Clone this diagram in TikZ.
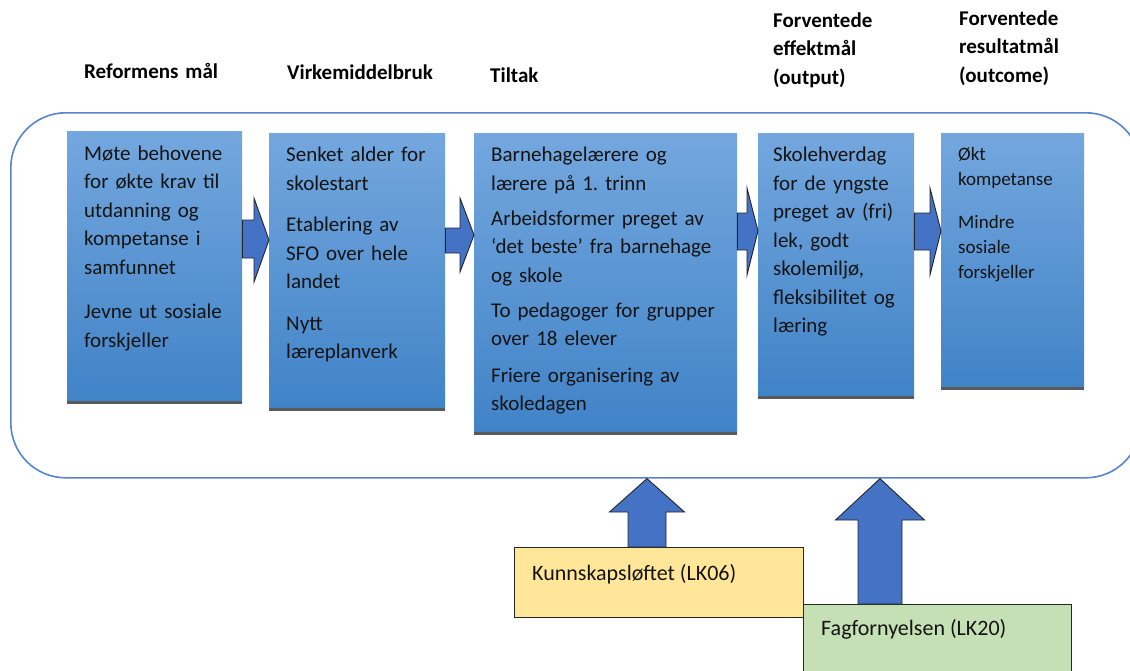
\documentclass[tikz,border=0pt]{standalone}
\usepackage{fontspec}
\setmainfont{Carlito}
\usetikzlibrary{calc}
\frenchspacing
\definecolor{boxtop}{RGB}{116,167,222}
\definecolor{boxbot}{RGB}{64,131,199}
\definecolor{arrowblue}{RGB}{68,114,196}
\definecolor{frameblue}{RGB}{88,132,204}
\definecolor{lkyellow}{RGB}{255,230,153}
\definecolor{lkgreen}{RGB}{197,224,180}
\definecolor{shadowgray}{RGB}{90,90,90}
\newcommand\rblock[8]{%
  \draw[blockarrow] let \p1=(#1.east), \p2=(#2.west) in
  (\x1,-#3pt) -- (\x2-#8pt,-#3pt) -- (\x2-#8pt,-#5pt) -- (\x2,-#7pt) -- (\x2-#8pt,-#6pt) -- (\x2-#8pt,-#4pt) -- (\x1,-#4pt) -- cycle;}
\newcommand\ublock[5]{%
  \draw[blockarrow] let \p1=(#2), \p2=(#1.north) in
  (\x1-#3pt,\y2) -- (\x1-#3pt,-#5pt) -- (\x1-#4pt,-#5pt) -- (\x1,\y1) -- (\x1+#4pt,-#5pt) -- (\x1+#3pt,-#5pt) -- (\x1+#3pt,\y2) -- cycle;}
\begin{document}
\begin{tikzpicture}[x=1pt,y=-1pt,
  gradbox/.style={rectangle, inner sep=0pt, top color=boxtop, bottom color=boxbot, draw=none, anchor=north west},
  shadowline/.style={line width=3pt, draw=shadowgray},
  bodytext/.style={anchor=base west, inner sep=0pt, text width=260pt, align=left, font=\fontsize{21}{28.5}\selectfont\frenchspacing, text=black!92},
  smalltext/.style={bodytext, font=\fontsize{19}{25}\selectfont},
  headtext/.style={anchor=base west, inner sep=0pt, text width=200pt, align=left, font=\fontsize{21}{28.5}\selectfont\bfseries, text=black},
  blockarrow/.style={fill=arrowblue, draw=black!85, line width=0.9pt, line join=miter},
  lkbox/.style={rectangle, draw=black!85, line width=1pt, anchor=north west, inner sep=0pt},
  lktext/.style={anchor=base west, inner sep=0pt, font=\fontsize{22}{26}\selectfont, text=black!92}
]
\useasboundingbox (0,0) rectangle (1130,670);
\clip (0,0) rectangle (1130,670);
\fill[white] (0,0) rectangle (1130,670);

% headings
\node[headtext] (h1) at (84,78) {Reformens mål};
\node[headtext] (h2) at (287,79) {Virkemiddelbruk};
\node[headtext] (h3) at (490,82) {Tiltak};
\node[headtext] (h4) at (773,27) {Forventede\\effektmål\\(output)};
\node[headtext] (h5) at (959,25) {Forventede\\resultatmål\\(outcome)};

% frame
\node[draw=frameblue, line width=1.6pt, rounded corners=55pt, minimum width=1130pt, minimum height=365pt, anchor=north west, inner sep=0pt] (frame) at (10,112) {};

% boxes
\node[gradbox, minimum width=175pt, minimum height=271pt] (b1) at (67,131) {};
\node[gradbox, minimum width=176pt, minimum height=276pt] (b2) at (269,133) {};
\node[gradbox, minimum width=263pt, minimum height=300pt] (b3) at (474,133) {};
\node[gradbox, minimum width=156pt, minimum height=264pt] (b4) at (758,133) {};
\node[gradbox, minimum width=143pt, minimum height=255pt] (b5) at (941,133) {};
\foreach \b in {b1,b2,b3,b4,b5}{\draw[shadowline] (\b.south west) -- (\b.south east);}

% box texts
\node[bodytext] (t1) at (84,160) {Møte behovene\\for økte krav til\\utdanning og\\kompetanse i\\samfunnet\\[16pt]Jevne ut sosiale\\forskjeller};
\node[bodytext] (t2) at (286,161.5) {Senket alder for\\skolestart\\[13pt]Etablering av\\SFO over hele\\landet\\[13pt]Nytt\\læreplanverk};
\node[bodytext] (t3) at (491,161.5) {Barnehagelærere og\\lærere på 1. trinn\\[6.5pt]Arbeidsformer preget av\\‘det beste’ fra barnehage\\og skole\\[6.5pt]To pedagoger for grupper\\over 18 elever\\[8pt]Friere organisering av\\skoledagen};
\node[bodytext] (t4) at (773,161.5) {Skolehverdag\\for de yngste\\preget av (fri)\\lek, godt\\skolemiljø,\\fleksibilitet og\\læring};
\node[smalltext] (t5) at (958,160) {Økt\\kompetanse\\[18pt]Mindre\\sosiale\\forskjeller};

% right block arrows
\rblock{b1}{b2}{220}{258}{198}{282}{240}{15}
\rblock{b2}{b3}{228}{253}{198}{272}{235}{14}
\rblock{b3}{b4}{213}{250}{188}{275}{231}{11}
\rblock{b4}{b5}{213}{250}{188}{275}{231}{11}

% bottom boxes
\node[lkbox, fill=lkyellow, minimum width=289pt, minimum height=70pt] (lk06) at (514,547) {};
\node[lkbox, fill=lkgreen, minimum width=268pt, minimum height=90pt] (lk20) at (803,604) {};
\node[lktext] (lk06t) at (532,580) {Kunnskapsløftet (LK06)};
\node[lktext] (lk20t) at (821,635) {Fagfornyelsen (LK20)};

% up arrows
\coordinate (xA) at (647,0);
\coordinate (xB) at (880,0);
\coordinate (tipA) at (frame.south -| xA);
\coordinate (tipB) at (frame.south -| xB);
\ublock{lk06}{tipA}{19}{37.5}{512}
\ublock{lk20}{tipB}{22}{44.5}{520}
\end{tikzpicture}
\end{document}
